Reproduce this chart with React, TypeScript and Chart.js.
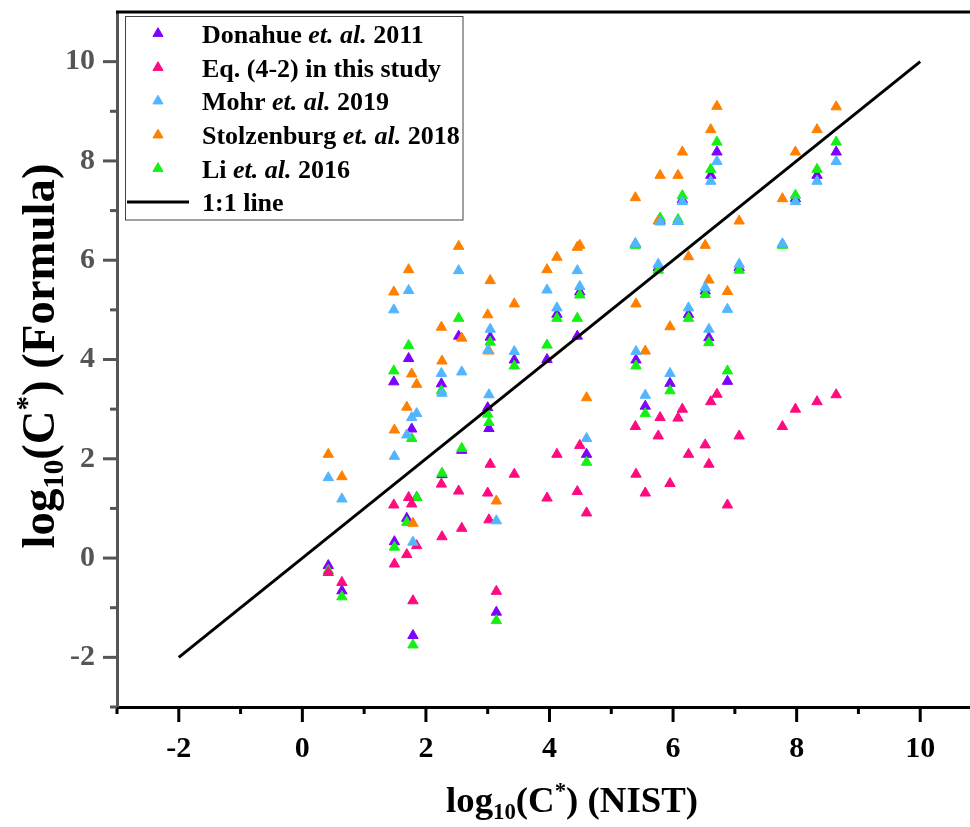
import React, { useEffect, useRef } from 'react';
import { Chart, registerables } from 'chart.js';

Chart.register(...registerables);

// log10(C*) from NIST (x) for each compound
const nistX = [
  0.42, 0.64, 1.48, 1.49, 1.69, 1.72, 1.77, 1.79, 1.85, 2.25, 2.26, 2.53, 2.58, 3.04,
  3.0, 3.02, 3.14, 3.43, 3.96, 4.12, 4.45, 4.49, 4.6, 5.39, 5.4, 5.55, 5.79, 5.76,
  5.95, 6.08, 6.15, 6.25, 6.52, 6.58, 6.61, 6.71, 6.88, 7.07, 7.77, 7.98, 8.33, 8.64,
];
// log10(C*) from each formula (y)
const donahueY = [
  -0.15, -0.66, 3.55, 0.33, 0.8, 4.02, 2.6, -1.56, 1.22, 3.51, 1.68, 4.47, 2.17, 4.45,
  3.03, 2.61, -1.09, 3.99, 4.0, 4.91, 4.47, 5.36, 2.09, 6.32, 3.99, 3.06, 6.8, 5.85,
  3.52, 6.78, 7.22, 4.91, 5.38, 4.44, 7.71, 8.18, 3.56, 5.85, 6.32, 7.24, 7.71, 8.18,
];
const eqY = [
  -0.29, -0.49, 1.07, -0.12, 0.07, 1.22, 1.09, -0.86, 0.25, 1.49, 0.43, 1.35, 0.6, 1.89,
  1.31, 0.77, -0.67, 1.69, 1.21, 2.09, 1.34, 2.27, 0.91, 2.65, 1.69, 1.31, 2.83, 2.46,
  1.5, 2.82, 3.0, 2.09, 2.28, 1.89, 3.15, 3.3, 1.07, 2.46, 2.65, 3.0, 3.15, 3.29,
];
const mohrY = [
  1.62, 1.19, 5.0, 2.05, 2.48, 5.39, 2.83, 0.32, 2.91, 3.72, 3.32, 5.79, 3.75, 4.61,
  4.18, 3.29, 0.75, 4.16, 5.4, 5.04, 5.79, 5.47, 2.41, 6.34, 4.16, 3.28, 6.77, 5.92,
  3.72, 6.78, 7.18, 5.04, 5.45, 4.61, 7.59, 7.99, 5.01, 5.92, 6.33, 7.18, 7.59, 7.99,
];
const stolzY = [
  2.09, 1.64, 5.36, 2.58, 3.04, 5.81, 3.71, 0.7, 3.5, 4.65, 3.97, 6.28, 4.43, 5.59,
  4.9, 4.17, 1.15, 5.12, 5.81, 6.06, 6.26, 6.3, 3.23, 7.26, 5.12, 4.17, 7.71, 6.79,
  4.66, 7.71, 8.18, 6.07, 6.3, 5.6, 8.63, 9.1, 5.37, 6.79, 7.24, 8.18, 8.63, 9.09,
];
const liY = [
  -0.25, -0.78, 3.77, 0.22, 0.72, 4.28, 2.41, -1.75, 1.22, 3.37, 1.71, 4.83, 2.21, 4.35,
  2.9, 2.73, -1.26, 3.87, 4.29, 4.83, 4.83, 5.3, 1.93, 6.3, 3.87, 2.91, 6.85, 5.8,
  3.37, 6.82, 7.3, 4.83, 5.31, 4.34, 7.83, 8.38, 3.77, 5.8, 6.3, 7.31, 7.83, 8.38,
];
const lineX = [-2, 10];
const lineY = [-2, 10];

const xTickValues = [-2, 0, 2, 4, 6, 8, 10];
const yTickValues = [-2, 0, 2, 4, 6, 8, 10];

const seriesNames = [
  'Donahue et. al. 2011',
  'Eq. (4-2) in this study',
  'Mohr et. al. 2019',
  'Stolzenburg et. al. 2018',
  'Li et. al. 2016',
  '1:1 line',
];

const COLORS = ['#8000FF', '#FF0A80', '#52B6FF', '#FF8000', '#14F014'];
const FONT = '"Liberation Serif", "Times New Roman", Times, serif';

type Part = { t: string; s: number; it?: boolean; dy?: number };

function partsWidth(ctx: CanvasRenderingContext2D, parts: Part[]) {
  let w = 0;
  for (const p of parts) {
    ctx.font = `${p.it ? 'italic ' : ''}bold ${p.s}px ${FONT}`;
    w += ctx.measureText(p.t).width;
  }
  return w;
}

function drawParts(ctx: CanvasRenderingContext2D, parts: Part[], x: number, y: number, color: string) {
  let cx = x;
  ctx.fillStyle = color;
  ctx.textBaseline = 'alphabetic';
  ctx.textAlign = 'left';
  for (const p of parts) {
    ctx.font = `${p.it ? 'italic ' : ''}bold ${p.s}px ${FONT}`;
    ctx.fillText(p.t, cx, y + (p.dy || 0));
    cx += ctx.measureText(p.t).width;
  }
}

function titleParts(S: number, tail: string): Part[] {
  return [
    { t: 'log', s: S },
    { t: '10', s: S * 0.62, dy: S * 0.2 },
    { t: '(C', s: S },
    { t: '*', s: S * 0.62, dy: -S * 0.38 },
    { t: tail, s: S },
  ];
}

function fitParts(ctx: CanvasRenderingContext2D, tail: string, target: number) {
  const base = titleParts(40, tail);
  const w = partsWidth(ctx, base);
  return titleParts((40 * target) / w, tail);
}

function tri(ctx: CanvasRenderingContext2D, x: number, y: number, r: number, color: string) {
  ctx.beginPath();
  let rad = 0;
  const step = (2 * Math.PI) / 3;
  ctx.moveTo(x + Math.sin(rad) * r, y - Math.cos(rad) * r);
  rad += step;
  ctx.lineTo(x + Math.sin(rad) * r, y - Math.cos(rad) * r);
  rad += step;
  ctx.lineTo(x + Math.sin(rad) * r, y - Math.cos(rad) * r);
  ctx.closePath();
  ctx.fillStyle = color;
  ctx.fill();
  ctx.strokeStyle = color;
  ctx.lineWidth = 1;
  ctx.stroke();
}

const decorPlugin = {
  id: 'decor',
  afterDraw(chart: any) {
    const ctx: CanvasRenderingContext2D = chart.ctx;
    const xs = chart.scales.x;
    const ys = chart.scales.y;
    const area = chart.chartArea;
    ctx.save();
    // top frame line
    ctx.strokeStyle = '#000';
    ctx.lineWidth = 3;
    ctx.beginPath();
    ctx.moveTo(area.left - 1, area.top);
    ctx.lineTo(area.right, area.top);
    ctx.stroke();
    // x tick marks (major + minor)
    for (let v = Math.ceil(xs.min); v <= xs.max; v++) {
      const px = xs.getPixelForValue(v);
      const len = v % 2 === 0 ? 15 : 7;
      ctx.strokeStyle = '#000';
      ctx.beginPath();
      ctx.moveTo(px, area.bottom);
      ctx.lineTo(px, area.bottom + len);
      ctx.stroke();
    }
    for (let v = Math.ceil(ys.min); v < ys.max; v++) {
      const py = ys.getPixelForValue(v);
      const len = v % 2 === 0 ? 14 : 7;
      ctx.strokeStyle = '#555';
      ctx.beginPath();
      ctx.moveTo(area.left, py);
      ctx.lineTo(area.left - len, py);
      ctx.stroke();
    }
    // axis titles
    const xp = fitParts(ctx, ') (NIST)', 252);
    const xw = partsWidth(ctx, xp);
    drawParts(ctx, xp, 572 - xw / 2, 812, '#000');
    const yp = fitParts(ctx, ') (Formula)', 385);
    const yw = partsWidth(ctx, yp);
    ctx.save();
    ctx.translate(54, 356);
    ctx.rotate(-Math.PI / 2);
    drawParts(ctx, yp, -yw / 2, 0, '#000');
    ctx.restore();

    // legend
    ctx.fillStyle = '#fff';
    ctx.fillRect(125.5, 16.5, 337.5, 203.5);
    ctx.strokeStyle = '#444';
    ctx.lineWidth = 1;
    ctx.strokeRect(125.5, 16.5, 337.5, 203.5);
    const rows = [33.5, 67.5, 101, 135, 168.5, 202];
    const S = 26;
    const legendParts: Part[][] = [
      [{ t: 'Donahue ', s: S }, { t: 'et. al.', s: S, it: true }, { t: ' 2011', s: S }],
      [{ t: 'Eq. (4-2) in this study', s: S }],
      [{ t: 'Mohr ', s: S }, { t: 'et. al.', s: S, it: true }, { t: ' 2019', s: S }],
      [{ t: 'Stolzenburg ', s: S }, { t: 'et. al.', s: S, it: true }, { t: ' 2018', s: S }],
      [{ t: 'Li ', s: S }, { t: 'et. al.', s: S, it: true }, { t: ' 2016', s: S }],
      [{ t: seriesNames[5], s: S }],
    ];
    for (let i = 0; i < 6; i++) {
      const y = rows[i];
      if (i < 5) {
        tri(ctx, 158, y, 5.8, COLORS[i]);
      } else {
        ctx.strokeStyle = '#000';
        ctx.lineWidth = 3;
        ctx.beginPath();
        ctx.moveTo(127, y);
        ctx.lineTo(189, y);
        ctx.stroke();
      }
      drawParts(ctx, legendParts[i], 202, y + 9, '#000');
    }
    ctx.restore();
  },
};

function pts(ys: number[]) {
  return nistX.map((x, i) => ({ x, y: ys[i] }));
}

export default function App() {
  const ref = useRef<HTMLCanvasElement | null>(null);
  useEffect(() => {
    if (!ref.current) return;
    const seriesY = [donahueY, eqY, mohrY, stolzY, liY];
    const orders = [4, 2, 0, 1, 3];
    const datasets: any[] = seriesY.map((ys, i) => ({
      label: seriesNames[i],
      data: pts(ys),
      pointStyle: 'triangle',
      pointRadius: 6,
      pointBorderWidth: 1,
      backgroundColor: COLORS[i],
      borderColor: COLORS[i],
      order: orders[i],
    }));
    datasets.push({
      label: seriesNames[5],
      data: lineX.map((x, i) => ({ x, y: lineY[i] })),
      showLine: true,
      borderColor: '#000',
      backgroundColor: '#000',
      borderWidth: 3,
      pointRadius: 0,
      order: -1,
    });
    const chart = new Chart(ref.current, {
      type: 'scatter',
      data: { datasets },
      options: {
        animation: false,
        responsive: false,
        devicePixelRatio: 1,
        layout: { padding: { top: 12, left: 0, right: 0, bottom: 0 } },
        plugins: { legend: { display: false }, tooltip: { enabled: false } },
        scales: {
          x: {
            type: 'linear',
            min: -3,
            max: 11,
            grid: { display: false, drawTicks: false },
            border: { display: true, color: '#000', width: 3 },
            ticks: {
              color: '#000',
              padding: 24,
              font: { family: FONT, size: 30, weight: 'bold' },
            },
            afterBuildTicks: (s: any) => {
              s.ticks = xTickValues.map((v) => ({ value: v }));
            },
            afterFit: (s: any) => {
              s.height = 120;
              s.paddingLeft = 0;
              s.paddingRight = 0;
            },
          },
          y: {
            type: 'linear',
            min: -3,
            max: 11,
            grid: { display: false, drawTicks: false },
            border: { display: true, color: '#555', width: 3 },
            ticks: {
              color: '#555',
              padding: 22,
              font: { family: FONT, size: 30, weight: 'bold' },
            },
            afterBuildTicks: (s: any) => {
              s.ticks = yTickValues.map((v) => ({ value: v }));
            },
            afterFit: (s: any) => {
              s.width = 117;
              s.paddingTop = 0;
              s.paddingBottom = 0;
            },
          },
        },
      },
      plugins: [decorPlugin],
    } as any);
    return () => chart.destroy();
  }, []);
  return (
    <div
      style={{
        position: 'fixed',
        left: 0,
        top: 0,
        width: 970,
        height: 827,
        overflow: 'hidden',
        background: '#fff',
      }}
    >
      <canvas ref={ref} width={989} height={827} style={{ display: 'block', width: 989, height: 827 }} />
    </div>
  );
}
